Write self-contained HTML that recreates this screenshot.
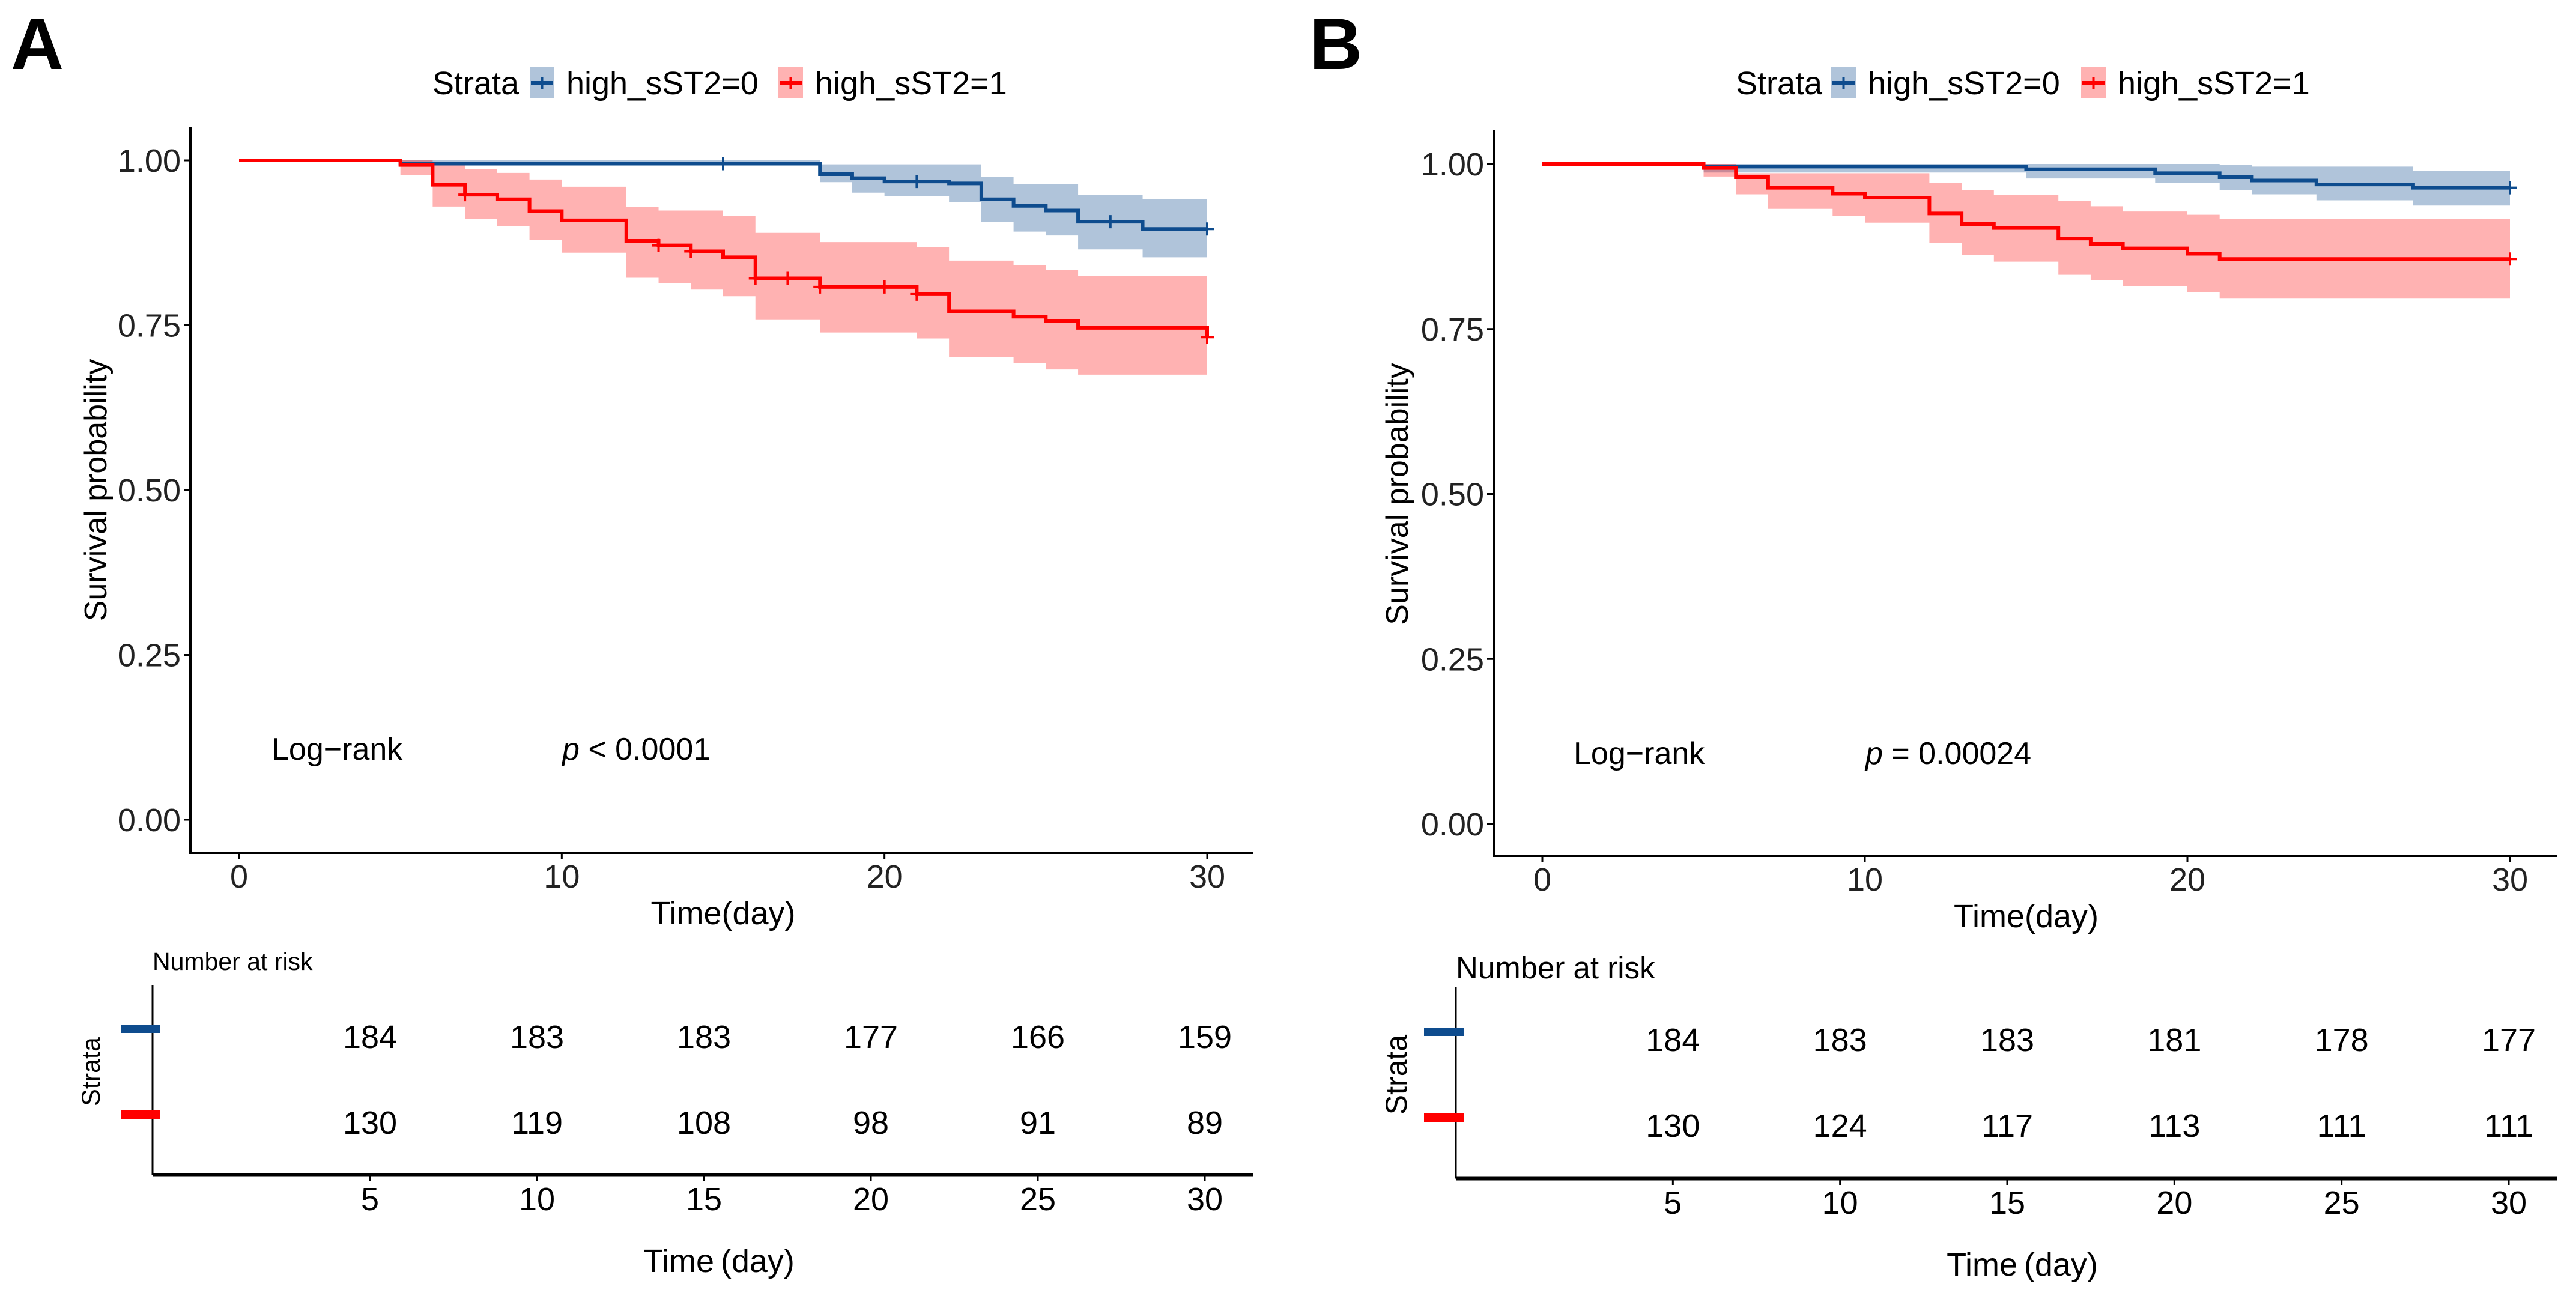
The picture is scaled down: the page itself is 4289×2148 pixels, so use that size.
<!DOCTYPE html>
<html><head><meta charset="utf-8"><style>
html,body{margin:0;padding:0;background:#fff;}
svg{display:block;font-family:"Liberation Sans",Arial,sans-serif;}
</style></head><body>
<svg id="fig" width="4289" height="2148" viewBox="0 0 4289 2148" xmlns="http://www.w3.org/2000/svg">
<rect x="0" y="0" width="4289" height="2148" fill="#fff"/>
<text x="18" y="115" font-size="122" font-weight="bold">A</text>
<text x="2180" y="115" font-size="122" font-weight="bold">B</text>
</svg>
<script>
// ---- Panel A data ----
const aBlueTimes = [0,5,18,19,20,22,23,24,25,26,28];
const aBlueSurv  = [1,.995,.979,.973,.968,.965,.941,.931,.924,.907,.896];
const aBlueUpper = [1,1,.994,.994,.994,.994,.975,.964,.964,.948,.941];
const aBlueLower = [1,.993,.967,.951,.946,.937,.907,.892,.886,.865,.853];
const aBlueCensor = [15,21,27,30];
const aRedTimes = [0,5,6,7,8,9,10,12,13,14,15,16,18,21,22,24,25,26,30];
const aRedSurv  = [1,.993,.963,.948,.941,.923,.909,.878,.871,.862,.853,.821,.808,.797,.771,.763,.756,.746,.732];
const aRedUpper = [1,1,.993,.987,.981,.971,.960,.929,.924,.924,.916,.890,.876,.868,.848,.841,.834,.825,.825];
const aRedLower = [1,.978,.930,.911,.900,.879,.860,.822,.814,.804,.794,.758,.739,.730,.702,.693,.683,.675,.675];
const aRedCensor = [7,13,14,16,17,18,20,21,30];
const aRiskBlue = [184,183,183,177,166,159];
const aRiskRed  = [130,119,108,98,91,89];
const aPLabel = " < 0.0001";
// ---- Panel B data ----
const bBlueTimes = [0,5,15,19,21,22,24,27];
const bBlueSurv  = [1,.996,.992,.986,.980,.975,.969,.964];
const bBlueUpper = [1,1,1,1,.999,.996,.996,.990];
const bBlueLower = [1,.987,.978,.971,.960,.954,.945,.937];
const bBlueCensor = [30];
const bRedTimes = [0,5,6,7,9,10,12,13,14,16,17,18,20,21];
const bRedSurv  = [1,.994,.980,.964,.955,.949,.925,.909,.903,.887,.879,.872,.864,.856];
const bRedUpper = [1,1,.986,.986,.986,.986,.971,.960,.953,.944,.936,.928,.923,.917];
const bRedLower = [1,.981,.954,.932,.921,.911,.880,.862,.852,.832,.824,.815,.806,.796];
const bRedCensor = [30];
const bRiskBlue = [184,183,183,181,178,177];
const bRiskRed  = [130,124,117,113,111,111];
const bPLabel = " = 0.00024";
// ---- shared ticks ----
const yTicks = [0,0.25,0.5,0.75,1];
const yTickLabels = ["0.00","0.25","0.50","0.75","1.00"];
const xTicks = [0,10,20,30];
const riskTimes = [5,10,15,20,25,30];

const NS="http://www.w3.org/2000/svg";
const svg=document.getElementById('fig');
const BLUE="#0E4C8E", RED="#FF0000";
function mk(tag,attrs,parent){const e=document.createElementNS(NS,tag);for(const k in attrs)e.setAttribute(k,attrs[k]);(parent||svg).appendChild(e);return e;}
function stepAt(times,vals,t){let v=vals[0];for(let i=0;i<times.length;i++){if(times[i]<=t)v=vals[i];}return v;}

function panel(P){
  const g=mk('g',{});
  
  
  const X=t=>P.x0+(P.x30-P.x0)*t/30;
  const Y=v=>P.y0+(P.y1-P.y0)*v;
  // bands and lines
  P.series.forEach(s=>{
    let up="",lo=[];
    for(let i=0;i<s.t.length;i++){const t2=i+1<s.t.length?s.t[i+1]:30;
      up+=(i?"L":"M")+X(s.t[i])+","+Y(s.up[i])+"L"+X(t2)+","+Y(s.up[i]);
      lo.push([X(s.t[i]),Y(s.lo[i])],[X(t2),Y(s.lo[i])]);}
    lo.reverse().forEach(p=>{up+="L"+p[0]+","+p[1];});
    const band=mk('path',{d:up+"Z",fill:s.color,'fill-opacity':s.color===RED?0.3:0.33},g);
    
    
  });
  P.series.forEach(s=>{
    let d="";
    for(let i=0;i<s.t.length;i++){const t2=i+1<s.t.length?s.t[i+1]:30;
      d+=(i?"L":"M")+X(s.t[i])+","+Y(s.s[i]);
      d+="L"+X(t2)+","+Y(s.s[i]);}
    const line=mk('path',{d:d,fill:'none',stroke:s.color,'stroke-width':6},g);
    
    
    s.c.forEach(ct=>{const cx=X(ct),cy=Y(stepAt(s.t,s.s,ct));
      const m=mk('path',{d:`M${cx-11},${cy}H${cx+11}M${cx},${cy-11}V${cy+11}`,stroke:s.color,'stroke-width':4},g);
      
      });
  });
  // axes
  const ax=mk('path',{d:`M${P.ax},${P.atop}V${P.abot}H${P.aend}`,fill:'none',stroke:'#000','stroke-width':4},g);
  
  
  yTicks.forEach((v,i)=>{
    mk('line',{x1:P.ax-11,x2:P.ax,y1:Y(v),y2:Y(v),stroke:'#000','stroke-width':3},g);
    const t=mk('text',{x:P.ax-16,y:Y(v)+19,'font-size':54,'text-anchor':'end',fill:'#222'},g);
    t.textContent=yTickLabels[i];
    
    
  });
  xTicks.forEach(v=>{
    mk('line',{x1:X(v),x2:X(v),y1:P.abot,y2:P.abot+11,stroke:'#000','stroke-width':3},g);
    const t=mk('text',{x:X(v),y:P.abot+58,'font-size':54,'text-anchor':'middle',fill:'#222'},g);
    t.textContent=v;
    
    
  });
  let t=mk('text',{x:(P.x0+P.x30)/2,y:P.abot+119,'font-size':54,'text-anchor':'middle'},g);
  t.textContent="Time(day)";
  
  
  t=mk('text',{x:0,y:0,'font-size':52,'text-anchor':'middle',transform:`translate(${P.ytx},${(P.y0+P.y1)/2}) rotate(-90)`},g);
  t.textContent="Survival probability";
  
  
  t=mk('text',{x:P.lrx,y:P.lry,'font-size':52},g);
  t.textContent="Log\u2212rank";
  
  
  t=mk('text',{x:P.px,y:P.lry,'font-size':52},g);
  const ti=mk('tspan',{'font-style':'italic'},t);ti.textContent="p";
  const tr=mk('tspan',{},t);tr.textContent=P.p;
  
  
  // legend
  const L=P.leg;
  t=mk('text',{x:L.sx,y:157,'font-size':54},g);t.textContent="Strata";
  
  
  [[L.b,BLUE,"high_sST2=0",0.33],[L.r,RED,"high_sST2=1",0.3]].forEach((e,i)=>{
    const lg=mk('g',{},g);
    
    
    mk('rect',{x:e[0],y:112,width:41,height:52,fill:e[1],'fill-opacity':e[3]},lg);
    mk('line',{x1:e[0]+2,x2:e[0]+39,y1:138,y2:138,stroke:e[1],'stroke-width':6},lg);
    mk('line',{x1:e[0]+20.5,x2:e[0]+20.5,y1:128,y2:148,stroke:e[1],'stroke-width':4},lg);
    const tx=mk('text',{x:e[0]+61,y:157,'font-size':54},lg);tx.textContent=e[2];
  });
  // risk table
  const R=P.risk;
  const RX=tt=>R.x0+(R.x30-R.x0)*tt/30;
  t=mk('text',{x:R.ax,y:R.nary,'font-size':R.nfs},g);t.textContent="Number at risk";
  
  
  const ra=mk('path',{d:`M${R.ax},${R.top}V${R.bot}H${P.aend}`,fill:'none',stroke:'#000','stroke-width':3},g);
  
  
  mk('line',{x1:R.ax,x2:P.aend,y1:R.bot+2,y2:R.bot+2,stroke:'#000','stroke-width':5},g);
  [[R.rb,BLUE,P.rb,'high'],[R.rr,RED,P.rr,'low']].forEach((row,ri)=>{
    const k=mk('rect',{x:R.ax-53,y:row[0]-7,width:66,height:14,fill:row[1]},g);
    
    
    row[2].forEach((n,i)=>{
      const nt=mk('text',{x:RX(riskTimes[i]),y:row[0]+32,'font-size':54,'text-anchor':'middle'},g);
      nt.textContent=n;
      
      
    });
  });
  riskTimes.forEach(v=>{
    mk('line',{x1:RX(v),x2:RX(v),y1:R.bot,y2:R.bot+12,stroke:'#000','stroke-width':3},g);
    const tl=mk('text',{x:RX(v),y:R.bot+60,'font-size':54,'text-anchor':'middle'},g);
    tl.textContent=v;
    
    
  });
  t=mk('text',{x:(R.x0+R.x30)/2+25,y:R.bot+163,'font-size':54,'text-anchor':'middle'},g);
  t.textContent="Time\u2009(day)";
  
  
  t=mk('text',{x:0,y:0,'font-size':R.sfs,'text-anchor':'middle',transform:`translate(${R.sx},${(R.rb+R.rr)/2}) rotate(-90)`},g);
  t.textContent="Strata";
  
  
}

panel({id:'a',x0:398,x30:2010,y0:1365,y1:267,ax:317,atop:212,abot:1420,aend:2087,ytx:177,
  lrx:452,lry:1265,px:936,p:aPLabel,
  leg:{sx:720,b:882,r:1296},
  series:[{key:'high-sst2-0',color:BLUE,t:aBlueTimes,s:aBlueSurv,up:aBlueUpper,lo:aBlueLower,c:aBlueCensor},
          {key:'high-sst2-1',color:RED,t:aRedTimes,s:aRedSurv,up:aRedUpper,lo:aRedLower,c:aRedCensor}],
  rb:aRiskBlue,rr:aRiskRed,
  risk:{x0:338,x30:2006,ax:254,top:1640,bot:1955,rb:1713,rr:1856,nary:1615,nfs:41,sx:166,sfs:43}});
panel({id:'b',x0:2568,x30:4179,y0:1372,y1:273,ax:2487,atop:217,abot:1425,aend:4257,ytx:2344,
  lrx:2620,lry:1272,px:3106,p:bPLabel,
  leg:{sx:2890,b:3049,r:3465},
  series:[{key:'high-sst2-0',color:BLUE,t:bBlueTimes,s:bBlueSurv,up:bBlueUpper,lo:bBlueLower,c:bBlueCensor},
          {key:'high-sst2-1',color:RED,t:bRedTimes,s:bRedSurv,up:bRedUpper,lo:bRedLower,c:bRedCensor}],
  rb:bRiskBlue,rr:bRiskRed,
  risk:{x0:2507,x30:4177,ax:2424,top:1644,bot:1961,rb:1718,rr:1861,nary:1629,nfs:51,sx:2342,sfs:50}});
</script>
</body></html>
